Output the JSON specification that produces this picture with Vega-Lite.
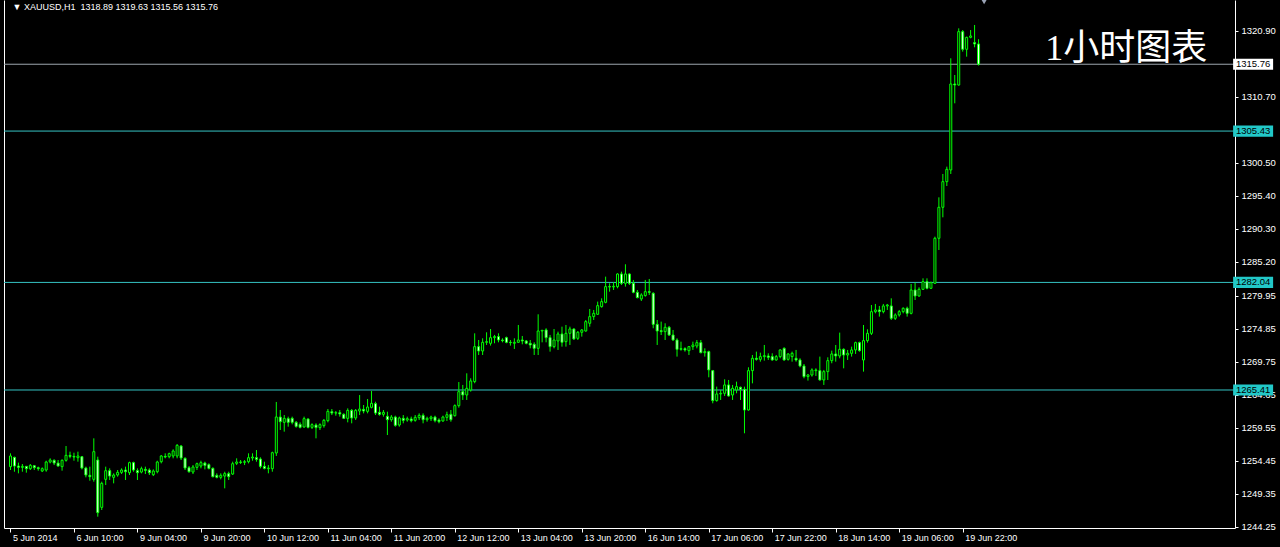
{
"$schema": "https://vega.github.io/schema/vega-lite/v6.json",
"width": 1231,
"height": 528,
"autosize": "none",
"padding": {"left": 4, "top": 0, "right": 45, "bottom": 19},
"background": "black",
"config": {"view": {"stroke": null}, "axis": {"grid": false}},
"datasets": {
"bars": [
{"i":0,"o":1253.56,"h":1255.62,"l":1253.04,"c":1255.21},
{"i":1,"o":1255.00,"h":1255.10,"l":1252.78,"c":1253.66},
{"i":2,"o":1253.66,"h":1254.18,"l":1252.53,"c":1253.45},
{"i":3,"o":1253.45,"h":1253.97,"l":1252.78,"c":1253.61},
{"i":4,"o":1253.61,"h":1253.66,"l":1252.63,"c":1253.25},
{"i":5,"o":1253.25,"h":1253.97,"l":1253.04,"c":1253.76},
{"i":6,"o":1253.71,"h":1253.76,"l":1253.04,"c":1253.40},
{"i":7,"o":1253.40,"h":1253.56,"l":1252.94,"c":1253.25},
{"i":8,"o":1252.89,"h":1253.45,"l":1252.73,"c":1253.25},
{"i":9,"o":1253.04,"h":1254.48,"l":1252.78,"c":1254.28},
{"i":10,"o":1254.28,"h":1254.85,"l":1254.07,"c":1254.59},
{"i":11,"o":1254.54,"h":1254.69,"l":1253.81,"c":1254.12},
{"i":12,"o":1254.12,"h":1254.59,"l":1253.56,"c":1253.66},
{"i":13,"o":1253.56,"h":1254.69,"l":1252.94,"c":1254.54},
{"i":14,"o":1254.54,"h":1256.75,"l":1254.33,"c":1255.31},
{"i":15,"o":1255.31,"h":1255.88,"l":1254.85,"c":1255.15},
{"i":16,"o":1255.15,"h":1255.72,"l":1254.48,"c":1255.05},
{"i":17,"o":1254.95,"h":1255.88,"l":1254.33,"c":1255.21},
{"i":18,"o":1255.10,"h":1255.21,"l":1253.14,"c":1253.35},
{"i":19,"o":1253.35,"h":1253.56,"l":1251.91,"c":1252.27},
{"i":20,"o":1252.22,"h":1253.56,"l":1251.39,"c":1252.01},
{"i":21,"o":1251.60,"h":1257.94,"l":1251.24,"c":1255.88},
{"i":22,"o":1254.59,"h":1255.10,"l":1245.83,"c":1246.45},
{"i":23,"o":1247.27,"h":1251.24,"l":1246.86,"c":1250.98},
{"i":24,"o":1251.60,"h":1253.56,"l":1250.72,"c":1252.94},
{"i":25,"o":1252.94,"h":1253.30,"l":1251.50,"c":1252.11},
{"i":26,"o":1251.91,"h":1252.53,"l":1250.98,"c":1252.27},
{"i":27,"o":1252.27,"h":1253.04,"l":1252.01,"c":1252.68},
{"i":28,"o":1252.68,"h":1253.30,"l":1252.42,"c":1253.04},
{"i":29,"o":1253.04,"h":1253.56,"l":1251.50,"c":1252.78},
{"i":30,"o":1252.63,"h":1254.33,"l":1252.27,"c":1254.18},
{"i":31,"o":1254.18,"h":1254.33,"l":1252.78,"c":1253.04},
{"i":32,"o":1252.94,"h":1253.30,"l":1251.50,"c":1252.63},
{"i":33,"o":1252.73,"h":1253.56,"l":1252.53,"c":1253.25},
{"i":34,"o":1253.14,"h":1253.56,"l":1252.42,"c":1252.99},
{"i":35,"o":1253.04,"h":1253.30,"l":1252.27,"c":1252.63},
{"i":36,"o":1252.32,"h":1253.14,"l":1252.11,"c":1252.89},
{"i":37,"o":1252.78,"h":1254.48,"l":1252.53,"c":1254.28},
{"i":38,"o":1254.33,"h":1255.36,"l":1254.07,"c":1255.21},
{"i":39,"o":1255.15,"h":1255.62,"l":1254.85,"c":1255.05},
{"i":40,"o":1255.10,"h":1255.72,"l":1254.85,"c":1255.57},
{"i":41,"o":1255.21,"h":1256.24,"l":1254.85,"c":1255.98},
{"i":42,"o":1255.21,"h":1257.06,"l":1254.85,"c":1256.85},
{"i":43,"o":1256.75,"h":1256.91,"l":1254.59,"c":1254.90},
{"i":44,"o":1254.85,"h":1255.00,"l":1253.04,"c":1253.35},
{"i":45,"o":1253.40,"h":1253.66,"l":1252.63,"c":1252.78},
{"i":46,"o":1252.73,"h":1253.81,"l":1252.42,"c":1253.51},
{"i":47,"o":1253.45,"h":1254.18,"l":1253.04,"c":1254.02},
{"i":48,"o":1253.66,"h":1254.48,"l":1253.30,"c":1254.18},
{"i":49,"o":1254.12,"h":1254.33,"l":1253.14,"c":1253.76},
{"i":50,"o":1253.87,"h":1254.07,"l":1253.14,"c":1253.30},
{"i":51,"o":1253.30,"h":1253.45,"l":1251.91,"c":1252.01},
{"i":52,"o":1252.22,"h":1252.53,"l":1251.75,"c":1251.91},
{"i":53,"o":1251.91,"h":1252.53,"l":1251.60,"c":1252.22},
{"i":54,"o":1252.11,"h":1252.78,"l":1250.21,"c":1252.48},
{"i":55,"o":1252.48,"h":1252.78,"l":1251.50,"c":1252.01},
{"i":56,"o":1252.42,"h":1254.33,"l":1252.27,"c":1254.02},
{"i":57,"o":1254.07,"h":1254.85,"l":1253.81,"c":1254.28},
{"i":58,"o":1254.28,"h":1254.59,"l":1253.97,"c":1254.23},
{"i":59,"o":1254.23,"h":1254.59,"l":1253.81,"c":1254.33},
{"i":60,"o":1254.33,"h":1255.62,"l":1254.07,"c":1254.95},
{"i":61,"o":1254.90,"h":1255.62,"l":1254.48,"c":1255.05},
{"i":62,"o":1254.95,"h":1256.13,"l":1254.33,"c":1254.69},
{"i":63,"o":1254.74,"h":1255.00,"l":1253.30,"c":1253.61},
{"i":64,"o":1253.61,"h":1254.33,"l":1253.14,"c":1253.30},
{"i":65,"o":1253.25,"h":1253.81,"l":1252.53,"c":1253.35},
{"i":66,"o":1253.25,"h":1255.88,"l":1252.78,"c":1255.72},
{"i":67,"o":1255.67,"h":1263.56,"l":1255.21,"c":1261.24},
{"i":68,"o":1261.23,"h":1262.32,"l":1259.23,"c":1260.51},
{"i":69,"o":1260.41,"h":1261.54,"l":1258.97,"c":1261.03},
{"i":70,"o":1260.98,"h":1261.29,"l":1259.74,"c":1260.41},
{"i":71,"o":1261.03,"h":1261.29,"l":1260.10,"c":1260.41},
{"i":72,"o":1260.41,"h":1260.62,"l":1259.59,"c":1259.79},
{"i":73,"o":1260.10,"h":1260.41,"l":1259.48,"c":1259.64},
{"i":74,"o":1259.69,"h":1261.29,"l":1259.59,"c":1260.98},
{"i":75,"o":1260.93,"h":1261.03,"l":1259.48,"c":1259.64},
{"i":76,"o":1259.64,"h":1260.26,"l":1259.38,"c":1260.05},
{"i":77,"o":1260.00,"h":1260.26,"l":1257.94,"c":1259.59},
{"i":78,"o":1259.59,"h":1260.26,"l":1259.23,"c":1260.05},
{"i":79,"o":1259.90,"h":1260.93,"l":1259.59,"c":1260.72},
{"i":80,"o":1260.67,"h":1262.47,"l":1260.41,"c":1262.11},
{"i":81,"o":1262.06,"h":1262.47,"l":1261.54,"c":1261.85},
{"i":82,"o":1261.85,"h":1262.16,"l":1261.44,"c":1261.90},
{"i":83,"o":1261.90,"h":1262.32,"l":1261.29,"c":1261.70},
{"i":84,"o":1261.65,"h":1261.80,"l":1260.93,"c":1261.03},
{"i":85,"o":1261.03,"h":1262.57,"l":1260.41,"c":1262.26},
{"i":86,"o":1262.26,"h":1262.47,"l":1260.26,"c":1261.08},
{"i":87,"o":1261.08,"h":1262.47,"l":1260.77,"c":1262.26},
{"i":88,"o":1262.16,"h":1264.63,"l":1261.54,"c":1262.47},
{"i":89,"o":1262.42,"h":1263.09,"l":1261.80,"c":1262.16},
{"i":90,"o":1262.11,"h":1264.02,"l":1261.80,"c":1262.78},
{"i":91,"o":1262.73,"h":1265.25,"l":1262.57,"c":1263.35},
{"i":92,"o":1263.30,"h":1263.60,"l":1261.54,"c":1261.85},
{"i":93,"o":1261.96,"h":1262.83,"l":1261.44,"c":1261.65},
{"i":94,"o":1261.65,"h":1262.32,"l":1261.29,"c":1261.96},
{"i":95,"o":1261.34,"h":1262.06,"l":1258.45,"c":1260.82},
{"i":96,"o":1260.82,"h":1261.54,"l":1260.51,"c":1261.23},
{"i":97,"o":1261.23,"h":1261.44,"l":1259.74,"c":1259.95},
{"i":98,"o":1260.00,"h":1261.29,"l":1259.74,"c":1261.08},
{"i":99,"o":1261.03,"h":1261.54,"l":1260.26,"c":1260.72},
{"i":100,"o":1260.77,"h":1261.29,"l":1260.51,"c":1260.98},
{"i":101,"o":1260.93,"h":1261.29,"l":1260.41,"c":1260.67},
{"i":102,"o":1260.72,"h":1261.54,"l":1260.51,"c":1261.18},
{"i":103,"o":1261.13,"h":1261.80,"l":1260.77,"c":1261.49},
{"i":104,"o":1261.49,"h":1261.80,"l":1260.26,"c":1260.82},
{"i":105,"o":1260.82,"h":1261.29,"l":1260.51,"c":1261.03},
{"i":106,"o":1260.98,"h":1261.44,"l":1260.62,"c":1261.23},
{"i":107,"o":1261.23,"h":1261.44,"l":1260.41,"c":1260.67},
{"i":108,"o":1260.77,"h":1261.03,"l":1260.26,"c":1260.51},
{"i":109,"o":1260.62,"h":1261.44,"l":1260.51,"c":1261.23},
{"i":110,"o":1261.18,"h":1262.06,"l":1260.62,"c":1261.59},
{"i":111,"o":1261.65,"h":1262.32,"l":1260.51,"c":1260.82},
{"i":112,"o":1261.44,"h":1263.19,"l":1261.29,"c":1262.99},
{"i":113,"o":1262.99,"h":1266.64,"l":1262.68,"c":1265.15},
{"i":114,"o":1265.15,"h":1266.19,"l":1263.87,"c":1264.64},
{"i":115,"o":1264.64,"h":1267.99,"l":1263.87,"c":1265.67},
{"i":116,"o":1265.41,"h":1267.22,"l":1265.16,"c":1266.81},
{"i":117,"o":1266.71,"h":1274.17,"l":1266.45,"c":1272.11},
{"i":118,"o":1272.11,"h":1273.14,"l":1270.82,"c":1271.44},
{"i":119,"o":1271.44,"h":1273.40,"l":1270.82,"c":1272.78},
{"i":120,"o":1272.78,"h":1274.33,"l":1272.37,"c":1272.88},
{"i":121,"o":1272.63,"h":1274.84,"l":1272.27,"c":1273.50},
{"i":122,"o":1273.50,"h":1273.92,"l":1272.63,"c":1273.66},
{"i":123,"o":1273.66,"h":1274.17,"l":1272.78,"c":1273.14},
{"i":124,"o":1273.14,"h":1273.40,"l":1272.78,"c":1273.04},
{"i":125,"o":1273.50,"h":1273.66,"l":1272.63,"c":1272.78},
{"i":126,"o":1272.78,"h":1273.14,"l":1272.27,"c":1272.73},
{"i":127,"o":1272.63,"h":1273.40,"l":1271.75,"c":1272.78},
{"i":128,"o":1272.78,"h":1275.46,"l":1272.68,"c":1273.14},
{"i":129,"o":1273.14,"h":1273.76,"l":1272.47,"c":1272.99},
{"i":130,"o":1272.99,"h":1273.14,"l":1272.47,"c":1272.63},
{"i":131,"o":1272.63,"h":1273.14,"l":1271.85,"c":1272.37},
{"i":132,"o":1272.47,"h":1272.78,"l":1270.82,"c":1271.85},
{"i":133,"o":1271.85,"h":1277.11,"l":1270.82,"c":1274.53},
{"i":134,"o":1274.53,"h":1274.69,"l":1272.78,"c":1274.64},
{"i":135,"o":1274.69,"h":1274.95,"l":1272.78,"c":1273.50},
{"i":136,"o":1273.50,"h":1273.92,"l":1271.34,"c":1272.11},
{"i":137,"o":1272.11,"h":1274.84,"l":1271.85,"c":1273.14},
{"i":138,"o":1272.99,"h":1274.43,"l":1271.60,"c":1274.07},
{"i":139,"o":1274.07,"h":1275.20,"l":1272.11,"c":1272.78},
{"i":140,"o":1272.88,"h":1275.46,"l":1272.11,"c":1274.17},
{"i":141,"o":1274.17,"h":1275.20,"l":1272.37,"c":1274.84},
{"i":142,"o":1274.84,"h":1274.95,"l":1273.14,"c":1273.30},
{"i":143,"o":1273.40,"h":1274.53,"l":1273.14,"c":1274.33},
{"i":144,"o":1274.33,"h":1274.84,"l":1273.66,"c":1274.69},
{"i":145,"o":1274.53,"h":1276.23,"l":1274.43,"c":1275.98},
{"i":146,"o":1275.72,"h":1277.93,"l":1275.20,"c":1276.75},
{"i":147,"o":1276.75,"h":1277.78,"l":1276.23,"c":1277.26},
{"i":148,"o":1277.11,"h":1279.07,"l":1277.01,"c":1278.45},
{"i":149,"o":1278.29,"h":1279.58,"l":1278.14,"c":1279.07},
{"i":150,"o":1278.96,"h":1282.93,"l":1278.81,"c":1281.39},
{"i":151,"o":1281.39,"h":1281.90,"l":1280.61,"c":1281.33},
{"i":152,"o":1281.33,"h":1282.06,"l":1280.87,"c":1281.44},
{"i":153,"o":1281.39,"h":1283.45,"l":1281.13,"c":1283.34},
{"i":154,"o":1283.34,"h":1283.70,"l":1281.64,"c":1281.90},
{"i":155,"o":1281.90,"h":1284.84,"l":1281.39,"c":1283.34},
{"i":156,"o":1283.34,"h":1283.45,"l":1281.64,"c":1281.90},
{"i":157,"o":1281.90,"h":1282.42,"l":1280.36,"c":1280.51},
{"i":158,"o":1280.51,"h":1280.87,"l":1279.58,"c":1279.69},
{"i":159,"o":1279.48,"h":1280.36,"l":1279.17,"c":1280.10},
{"i":160,"o":1280.00,"h":1282.42,"l":1279.84,"c":1280.61},
{"i":161,"o":1280.61,"h":1282.57,"l":1280.10,"c":1280.51},
{"i":162,"o":1280.36,"h":1280.51,"l":1274.95,"c":1275.56},
{"i":163,"o":1275.56,"h":1276.23,"l":1272.37,"c":1274.53},
{"i":164,"o":1274.58,"h":1275.98,"l":1273.91,"c":1274.43},
{"i":165,"o":1274.43,"h":1275.72,"l":1273.14,"c":1275.10},
{"i":166,"o":1275.10,"h":1275.31,"l":1273.76,"c":1273.91},
{"i":167,"o":1273.91,"h":1274.69,"l":1273.04,"c":1273.14},
{"i":168,"o":1273.14,"h":1273.40,"l":1270.57,"c":1271.70},
{"i":169,"o":1271.70,"h":1272.88,"l":1271.49,"c":1271.80},
{"i":170,"o":1271.80,"h":1272.01,"l":1271.34,"c":1271.60},
{"i":171,"o":1271.49,"h":1272.21,"l":1270.82,"c":1272.11},
{"i":172,"o":1272.11,"h":1272.88,"l":1271.60,"c":1272.37},
{"i":173,"o":1272.21,"h":1273.14,"l":1271.85,"c":1272.73},
{"i":174,"o":1272.73,"h":1273.14,"l":1271.08,"c":1271.18},
{"i":175,"o":1271.18,"h":1271.85,"l":1270.57,"c":1271.34},
{"i":176,"o":1271.34,"h":1271.49,"l":1267.37,"c":1268.51},
{"i":177,"o":1268.40,"h":1268.51,"l":1263.35,"c":1263.77},
{"i":178,"o":1263.77,"h":1265.93,"l":1263.61,"c":1264.80},
{"i":179,"o":1264.80,"h":1265.41,"l":1263.87,"c":1264.90},
{"i":180,"o":1264.90,"h":1267.06,"l":1264.49,"c":1266.19},
{"i":181,"o":1266.19,"h":1266.96,"l":1264.38,"c":1264.49},
{"i":182,"o":1264.64,"h":1266.19,"l":1263.87,"c":1265.67},
{"i":183,"o":1265.41,"h":1266.70,"l":1264.90,"c":1265.93},
{"i":184,"o":1265.83,"h":1265.93,"l":1263.87,"c":1265.52},
{"i":185,"o":1265.52,"h":1265.93,"l":1258.72,"c":1262.32},
{"i":186,"o":1262.32,"h":1268.92,"l":1262.22,"c":1268.40},
{"i":187,"o":1268.40,"h":1270.82,"l":1266.44,"c":1270.31},
{"i":188,"o":1270.31,"h":1271.34,"l":1269.95,"c":1270.15},
{"i":189,"o":1270.15,"h":1271.18,"l":1269.79,"c":1270.57},
{"i":190,"o":1270.57,"h":1272.37,"l":1269.95,"c":1270.72},
{"i":191,"o":1270.67,"h":1271.08,"l":1270.05,"c":1270.46},
{"i":192,"o":1270.57,"h":1271.08,"l":1269.95,"c":1270.05},
{"i":193,"o":1270.05,"h":1270.82,"l":1269.95,"c":1270.57},
{"i":194,"o":1270.57,"h":1271.70,"l":1270.31,"c":1271.60},
{"i":195,"o":1271.85,"h":1272.01,"l":1269.95,"c":1270.05},
{"i":196,"o":1270.15,"h":1271.08,"l":1269.95,"c":1270.98},
{"i":197,"o":1270.57,"h":1271.34,"l":1269.79,"c":1271.08},
{"i":198,"o":1270.31,"h":1271.60,"l":1269.79,"c":1270.05},
{"i":199,"o":1270.05,"h":1270.31,"l":1268.92,"c":1269.12},
{"i":200,"o":1269.12,"h":1269.43,"l":1267.22,"c":1267.48},
{"i":201,"o":1267.48,"h":1267.89,"l":1266.86,"c":1267.73},
{"i":202,"o":1267.73,"h":1268.76,"l":1267.48,"c":1268.51},
{"i":203,"o":1268.40,"h":1268.76,"l":1267.58,"c":1268.51},
{"i":204,"o":1268.40,"h":1270.57,"l":1266.86,"c":1266.96},
{"i":205,"o":1266.96,"h":1268.51,"l":1266.19,"c":1268.25},
{"i":206,"o":1268.25,"h":1270.46,"l":1266.96,"c":1269.95},
{"i":207,"o":1269.95,"h":1271.49,"l":1269.54,"c":1270.98},
{"i":208,"o":1270.98,"h":1272.37,"l":1269.79,"c":1270.67},
{"i":209,"o":1270.67,"h":1274.28,"l":1270.31,"c":1271.70},
{"i":210,"o":1271.70,"h":1271.85,"l":1268.76,"c":1270.82},
{"i":211,"o":1270.82,"h":1271.60,"l":1270.05,"c":1271.08},
{"i":212,"o":1271.08,"h":1272.11,"l":1270.57,"c":1271.60},
{"i":213,"o":1271.60,"h":1272.88,"l":1270.98,"c":1272.73},
{"i":214,"o":1272.73,"h":1272.88,"l":1271.34,"c":1271.49},
{"i":215,"o":1270.05,"h":1275.46,"l":1268.25,"c":1273.04},
{"i":216,"o":1273.04,"h":1274.79,"l":1272.73,"c":1274.17},
{"i":217,"o":1274.17,"h":1278.55,"l":1273.91,"c":1277.52},
{"i":218,"o":1277.52,"h":1278.71,"l":1277.26,"c":1277.78},
{"i":219,"o":1277.78,"h":1278.40,"l":1276.75,"c":1277.52},
{"i":220,"o":1277.52,"h":1278.71,"l":1277.26,"c":1278.40},
{"i":221,"o":1278.40,"h":1278.71,"l":1277.78,"c":1278.55},
{"i":222,"o":1278.40,"h":1279.58,"l":1276.23,"c":1276.49},
{"i":223,"o":1276.49,"h":1277.26,"l":1276.23,"c":1277.01},
{"i":224,"o":1277.01,"h":1277.78,"l":1276.75,"c":1277.52},
{"i":225,"o":1277.52,"h":1278.19,"l":1277.26,"c":1278.04},
{"i":226,"o":1278.04,"h":1278.29,"l":1276.75,"c":1277.26},
{"i":227,"o":1277.26,"h":1281.80,"l":1277.10,"c":1280.87},
{"i":228,"o":1280.87,"h":1282.00,"l":1279.32,"c":1279.94},
{"i":229,"o":1279.94,"h":1281.28,"l":1279.84,"c":1280.97},
{"i":230,"o":1280.97,"h":1282.67,"l":1280.87,"c":1282.16},
{"i":231,"o":1282.16,"h":1282.67,"l":1280.97,"c":1281.13},
{"i":232,"o":1281.13,"h":1282.16,"l":1281.05,"c":1282.00},
{"i":233,"o":1281.90,"h":1289.11,"l":1281.80,"c":1288.86},
{"i":234,"o":1288.86,"h":1295.19,"l":1287.05,"c":1293.65},
{"i":235,"o":1293.65,"h":1298.80,"l":1292.10,"c":1297.61},
{"i":236,"o":1297.61,"h":1299.93,"l":1296.94,"c":1299.52},
{"i":237,"o":1299.42,"h":1316.68,"l":1298.80,"c":1312.71},
{"i":238,"o":1312.71,"h":1314.10,"l":1309.72,"c":1312.55},
{"i":239,"o":1312.55,"h":1321.31,"l":1312.45,"c":1320.80},
{"i":240,"o":1320.80,"h":1321.05,"l":1317.71,"c":1318.07},
{"i":241,"o":1318.07,"h":1320.02,"l":1316.93,"c":1319.92},
{"i":242,"o":1319.92,"h":1321.05,"l":1319.77,"c":1320.13},
{"i":243,"o":1319.10,"h":1321.83,"l":1318.38,"c":1318.89},
{"i":244,"o":1318.89,"h":1319.63,"l":1315.56,"c":1315.76}
],
"levels": [
{"price": 1315.76, "kind": "bid"},
{"price": 1305.43, "kind": "level"},
{"price": 1282.04, "kind": "level"},
{"price": 1265.41, "kind": "level"}
]
},
"layer": [
{
"data": {"name": "levels"},
"mark": {"type": "rule", "strokeWidth": 1},
"encoding": {
"y": {"field": "price", "type": "quantitative",
"scale": {"domain": [1244.08, 1325.69], "nice": false, "zero": false},
"axis": {"orient": "right", "title": null, "values": [1320.90, 1310.70, 1300.50, 1295.40, 1290.30, 1285.20, 1279.95, 1274.85, 1269.75, 1264.65, 1259.55, 1254.45, 1249.35, 1244.25],
"format": ".2f", "labelColor": "white", "labelFont": "Liberation Sans", "labelFontSize": 9.5, "tickColor": "white", "tickSize": 3, "labelPadding": 3, "domainColor": "white", "labelFlush": false, "labelOverlap": false, "labelBound": false, "grid": false}},
"stroke": {"condition": {"test": "datum.kind == 'bid'", "value": "#9ea6ae"}, "value": "#35c3c3"}
}
},
{
"data": {"name": "bars"},
"mark": {"type": "rule", "color": "#00ff00", "strokeWidth": 1},
"encoding": {
"x": {"field": "i", "type": "quantitative",
"scale": {"domain": [-0.375, 307.375], "nice": false, "zero": false},
"axis": {"orient": "bottom", "title": null, "values": [0,16,32,48,64,80,96,112,128,144,160,176,192,208,224,240],
"labelExpr": "['5 Jun 2014','6 Jun 10:00','9 Jun 04:00','9 Jun 20:00','10 Jun 12:00','11 Jun 04:00','11 Jun 20:00','12 Jun 12:00','13 Jun 04:00','13 Jun 20:00','16 Jun 14:00','17 Jun 06:00','17 Jun 22:00','18 Jun 14:00','19 Jun 06:00','19 Jun 22:00'][datum.value/16]",
"labelAlign": "left", "labelOffset": 2, "labelPadding": 1, "labelColor": "white", "labelFont": "Liberation Sans", "labelFontSize": 9, "tickColor": "white", "tickSize": 4, "domainColor": "white", "labelFlush": false, "labelOverlap": false, "labelBound": false, "grid": false}},
"y": {"field": "l", "type": "quantitative",
"axis": {"orient": "left", "title": null, "labels": false, "ticks": false, "domainColor": "white", "grid": false}},
"y2": {"field": "h"}
}
},
{
"data": {"name": "bars"},
"mark": {"type": "bar", "width": 2, "stroke": "#00ff00", "strokeWidth": 1},
"encoding": {
"x": {"field": "i", "type": "quantitative", "axis": null},
"y": {"field": "o", "type": "quantitative", "axis": null},
"y2": {"field": "c"},
"fill": {"condition": {"test": "datum.c < datum.o", "value": "white"}, "value": "black"}
}
},
{
"data": {"name": "levels"},
"mark": {"type": "point", "shape": "M-1,-0.28H1V0.28H-1Z", "size": 1600, "filled": true, "opacity": 1, "strokeWidth": 0},
"encoding": {
"x": {"datum": 313.2, "type": "quantitative", "axis": null},
"y": {"field": "price", "type": "quantitative", "axis": null},
"fill": {"condition": {"test": "datum.kind == 'bid'", "value": "white"}, "value": "#22c8c8"}
}
},
{
"data": {"name": "levels"},
"mark": {"type": "text", "font": "Liberation Sans", "fontSize": 9.5, "align": "center", "baseline": "middle", "color": "black"},
"encoding": {
"x": {"datum": 313.2, "type": "quantitative", "axis": null},
"y": {"field": "price", "type": "quantitative", "axis": null},
"text": {"field": "price", "type": "quantitative", "format": ".2f"}
}
},
{
"data": {"values": [{"note": "header"}]},
"mark": {"type": "text", "font": "Liberation Sans", "fontSize": 9, "align": "left", "baseline": "middle", "color": "white", "text": "▼ XAUUSD,H1\u00a0 1318.89 1319.63 1315.56 1315.76"},
"encoding": {
"x": {"datum": 0.5, "type": "quantitative", "axis": null},
"y": {"datum": 1324.61, "type": "quantitative", "axis": null}
}
},
{
"data": {"values": [{"note": "caption"}]},
"mark": {"type": "text", "font": "Liberation Serif, Noto Sans CJK SC", "fontSize": 36, "align": "center", "baseline": "middle", "color": "white", "text": "1小时图表"},
"encoding": {
"x": {"datum": 281.2, "type": "quantitative", "axis": null},
"y": {"datum": 1318.1, "type": "quantitative", "axis": null}
}
},
{
"data": {"values": [{"note": "shift"}]},
"mark": {"type": "point", "shape": "triangle-down", "size": 50, "filled": true, "color": "#9aa3b5", "opacity": 1},
"encoding": {
"x": {"datum": 245.4, "type": "quantitative", "axis": null},
"y": {"datum": 1325.5, "type": "quantitative", "axis": null}
}
}
],
"resolve": {"axis": {"x": "independent", "y": "independent"}}
}
